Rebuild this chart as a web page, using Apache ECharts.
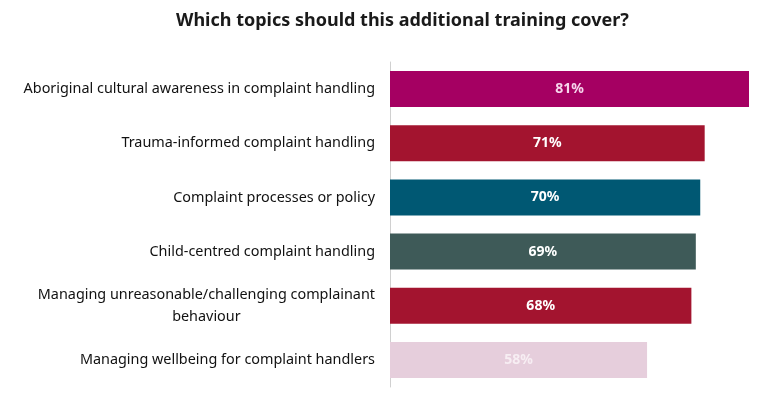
<!DOCTYPE html>
<html><head><meta charset="utf-8">
<script src="https://cdn.jsdelivr.net/npm/echarts@6/dist/echarts.min.js"></script>
<style>html,body{margin:0;padding:0;background:#fff}#c{width:772px;height:394px}</style>
</head><body><div id="c"></div>
<script>
const categories = [
  'Aboriginal cultural awareness in complaint handling',
  'Trauma-informed complaint handling',
  'Complaint processes or policy',
  'Child-centred complaint handling',
  'Managing unreasonable/challenging complainant\nbehaviour',
  'Managing wellbeing for complaint handlers'
];
const values = [81, 71, 70, 69, 68, 58];
const barColors = ['#A50062', '#A3142F', '#005873', '#3E5A58', '#A3142F', '#E6CEDC'];
const labelColors = ['#F6D6EC', '#FFFFFF', '#FFFFFF', '#FFFFFF', '#FFFFFF', '#F7EEF3'];

const chart = echarts.init(document.getElementById('c'));
chart.setOption({
  animation: false,
  title: {
    text: 'Which topics should this additional training cover?',
    left: 171, top: 7,
    textStyle: { fontFamily: 'Noto Sans', fontWeight: 'bold', fontSize: 18, color: '#1a1a1a' }
  },
  grid: { left: 390, right: 23, top: 62, bottom: 7, containLabel: false },
  xAxis: { type: 'value', min: 0, max: 81, show: false },
  yAxis: {
    type: 'category', inverse: true, data: categories,
    axisLine: { show: true, lineStyle: { color: '#d0d0d0', width: 1 } },
    axisTick: { show: false },
    axisLabel: {
      margin: 15, align: 'right',
      formatter: v => v.split('\n').map(s => '{c|' + s + '}').join('\n'),
      rich: { c: { align: 'center', fontFamily: 'Noto Sans', fontSize: 14.4, color: '#111', lineHeight: 22 } }
    }
  },
  series: [{
    type: 'bar', barWidth: 36,
    data: values.map((v, i) => ({
      value: v,
      itemStyle: { color: barColors[i] },
      label: { color: labelColors[i] }
    })),
    label: {
      show: true, position: 'inside', formatter: '{c}%',
      fontFamily: 'Noto Sans', fontWeight: 'bold', fontSize: 14
    }
  }]
});
</script></body></html>
